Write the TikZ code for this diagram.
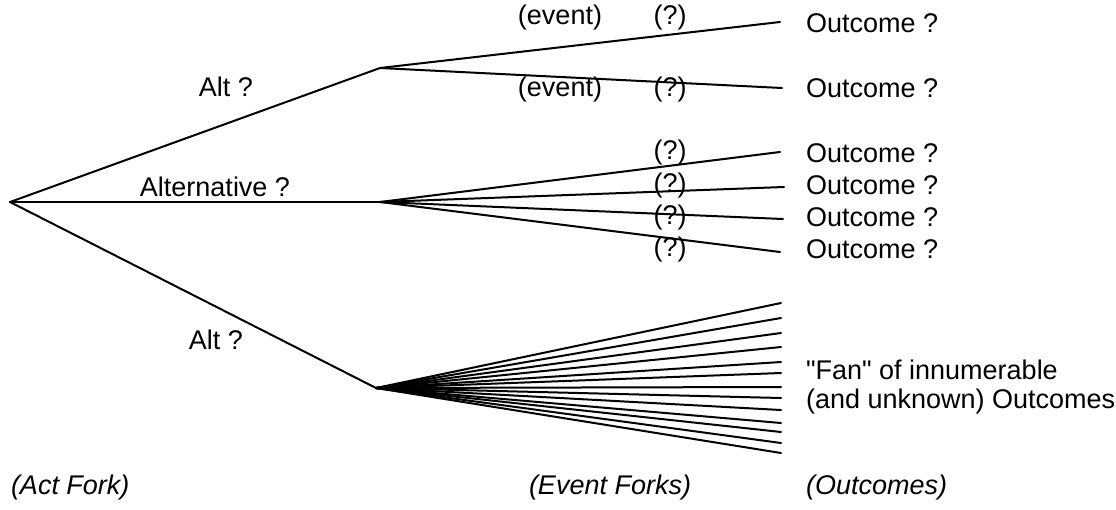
\documentclass[tikz,border=0pt]{standalone}
\usepackage{fontspec}
\setmainfont{Liberation Sans}
\usetikzlibrary{positioning}

\begin{document}
\begin{tikzpicture}[x=1pt, y=-1pt, line width=2pt, line cap=round, line join=round,
  lbl/.style={font=\fontsize{27}{31}\selectfont, inner sep=0pt},
  outc/.style={lbl, anchor=west},
  foot/.style={lbl, anchor=west, font=\fontsize{27}{31}\selectfont\itshape}]
  \useasboundingbox (0,0) rectangle (1116,509);
  % act fork and the three event forks
  \coordinate (act) at (10,202);
  \coordinate (ev1) at (380,68);
  \coordinate (ev2) at (380,202);
  \coordinate (ev3) at (376,388);
  \draw (act) -- (ev1);
  \draw (act) -- (ev2);
  \draw (act) -- (ev3);
  \node[lbl] (alt1) at (226,87) {Alt ?};
  \node[lbl] (alt2) at (215,187) {Alternative ?};
  \node[lbl] (alt3) at (216,340) {Alt ?};

  % first event fork
  \coordinate (e1) at (780,22);
  \coordinate (e2) at (782,88);
  \draw (ev1) -- (e1);
  \draw (ev1) -- (e2);
  \node[outc] (o1) at (805,23) {Outcome ?};
  \node[outc] (o2) at (805,88) {Outcome ?};
  \node[lbl] (evt1) at (560,18) {(event)};
  \node[lbl] (evt2) at (560,90) {(event)};
  \node[lbl] (q1) at (670,18) {(?)};
  \node[lbl] (q2) at (670,90) {(?)};

  % second event fork
  \coordinate (e3) at (780,152);
  \coordinate (e4) at (784,187);
  \coordinate (e5) at (783,219);
  \coordinate (e6) at (780,252);
  \foreach \i/\y in {3/153,4/185,5/217,6/249} {
    \draw (ev2) -- (e\i);
    \node[outc] (o\i) at (805,\y) {Outcome ?};
  }
  \node[lbl] (q3) at (670,153) {(?)};
  \node[lbl] (q4) at (670,186) {(?)};
  \node[lbl] (q5) at (670,218) {(?)};
  \node[lbl] (q6) at (670,250) {(?)};

  % the fan
  \foreach \y [count=\k] in {303,318,333,347,362,373,387,398,410,423,432,443,453} {
    \coordinate (f\k) at (781,\y);
    \draw (ev3) -- (f\k);
  }
  \node[outc] (fan1) at (805,370) {\textquotedbl Fan\textquotedbl{} of innumerable};
  \node[outc] (fan2) at (805,402) {(and unknown) Outcomes};

  \node[foot] (actf) at (10,488) {(Act Fork)};
  \node[foot] (evf) at (528,488) {(Event Forks)};
  \node[foot] (outf) at (805,488) {(Outcomes)};
\end{tikzpicture}
\end{document}
